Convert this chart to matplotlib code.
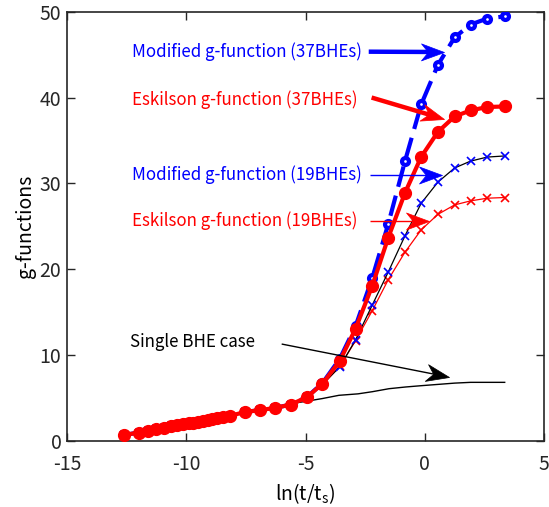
import matplotlib
matplotlib.use('Agg')
import matplotlib.pyplot as plt
import numpy as np
from matplotlib.path import Path

FONT = ['Noto Sans CJK KR', 'DejaVu Sans']
plt.rcParams['font.family'] = FONT
plt.rcParams['mathtext.fontset'] = 'custom'
plt.rcParams['mathtext.rm'] = 'Noto Sans CJK KR'
plt.rcParams['mathtext.it'] = 'Noto Sans CJK KR'
plt.rcParams['axes.unicode_minus'] = False

BLUE = '#0000FF'
RED = '#FF0000'

# ln(t/ts) sample points shared by the g-function series
lnt = [-12.6, -12.0, -11.6, -11.25, -10.95, -10.65, -10.4, -10.15, -9.9, -9.7,
       -9.5, -9.3, -9.1, -8.9, -8.7, -8.45, -8.15, -7.52, -6.92, -6.29,
       -5.62, -4.93, -4.29, -3.56, -2.9, -2.2, -1.53, -0.83, -0.15, 0.55,
       1.25, 1.92, 2.62, 3.35]

# Eskilson g-function, 37 BHEs
esk37 = [0.7, 1.0, 1.2, 1.4, 1.55, 1.7, 1.85, 1.95, 2.05, 2.15,
         2.25, 2.35, 2.45, 2.55, 2.65, 2.8, 2.95, 3.4, 3.6, 3.86,
         4.25, 5.13, 6.68, 9.36, 13.1, 18.1, 23.7, 28.9, 33.1, 36.0,
         37.8, 38.5, 38.9, 38.96]

# Modified g-function, 37 BHEs
mod37 = [0.7, 1.0, 1.2, 1.4, 1.55, 1.7, 1.85, 1.95, 2.05, 2.15,
         2.25, 2.35, 2.45, 2.55, 2.65, 2.8, 2.95, 3.4, 3.6, 3.86,
         4.25, 5.15, 6.75, 9.6, 13.4, 19.0, 25.3, 32.6, 39.2, 43.8,
         47.0, 48.5, 49.2, 49.45]

# Eskilson g-function, 19 BHEs
esk19 = [0.7, 1.0, 1.2, 1.4, 1.55, 1.7, 1.85, 1.95, 2.05, 2.15,
         2.25, 2.35, 2.45, 2.55, 2.65, 2.8, 2.95, 3.4, 3.6, 3.86,
         4.25, 5.1, 6.55, 8.7, 11.7, 15.2, 18.8, 22.0, 24.6, 26.4,
         27.5, 27.97, 28.28, 28.36]

# Modified g-function, 19 BHEs
mod19 = [0.7, 1.0, 1.2, 1.4, 1.55, 1.7, 1.85, 1.95, 2.05, 2.15,
         2.25, 2.35, 2.45, 2.55, 2.65, 2.8, 2.95, 3.4, 3.6, 3.86,
         4.25, 5.1, 6.6, 8.66, 11.8, 15.85, 19.7, 23.9, 27.7, 30.15,
         31.8, 32.6, 33.07, 33.2]

# single borehole response
single_x = [-12.6, -11.5, -10.5, -9.5, -8.5, -7.7, -6.9, -6.0, -5.6, -4.9,
            -4.3, -3.6, -2.8, -2.2, -1.5, -0.8, -0.15, 0.55, 1.25, 1.92,
            2.62, 3.35]
single_y = [0.8, 1.35, 1.85, 2.3, 2.8, 3.2, 3.55, 4.0, 4.36, 4.67,
            4.95, 5.33, 5.5, 5.75, 6.1, 6.3, 6.45, 6.6, 6.75, 6.84,
            6.84, 6.84]

fig = plt.figure(figsize=(5.49, 5.07), dpi=100)
ax = fig.add_axes([0.122, 0.130, 0.869, 0.847])
ax.set_xlim(-15, 5)
ax.set_ylim(0, 50)


def arrow(tail, head, color, lw, L=23, W=17, notch=0.3):
    """Line with a notched arrowhead; L and W in pixels."""
    p0 = ax.transData.transform(tail)
    p1 = ax.transData.transform(head)
    d = p1 - p0
    ang = np.arctan2(d[1], d[0])
    u = d / np.hypot(*d)
    # shaft stops inside the head
    end = ax.transData.inverted().transform(p1 - u * L * 0.6)
    ax.plot([tail[0], end[0]], [tail[1], end[1]], color=color, lw=lw,
            solid_capstyle='butt', zorder=6)
    verts = np.array([[0, 0], [-L, W / 2], [-L * (1 - notch), 0],
                      [-L, -W / 2], [0, 0]], dtype=float)
    c, s = np.cos(ang), np.sin(ang)
    rot = verts @ np.array([[c, s], [-s, c]])
    head_path = Path(rot, [Path.MOVETO, Path.LINETO, Path.LINETO,
                           Path.LINETO, Path.CLOSEPOLY])
    ms = 2 * np.abs(rot).max() * 72 / fig.dpi
    ax.plot([head[0]], [head[1]], marker=head_path, ms=ms, color=color,
            mec=color, mew=0.5, zorder=7)


ax.plot(single_x, single_y, color='black', lw=1.0, zorder=2)
ax.plot(lnt, esk19, color=RED, lw=0.9, marker='x', ms=6, mew=1.2, zorder=3)
ax.plot(lnt, mod19, color='black', lw=0.9, marker='x', ms=6, mew=1.2,
        mec=BLUE, zorder=3)
ax.plot(lnt, mod37, color=BLUE, lw=3.0, ls=(0, (5, 2.2)), marker='o', ms=5,
        mew=3.0, mfc='white', mec=BLUE, zorder=4)
ax.plot(lnt, esk37, color=RED, lw=3.0, marker='o', ms=8.5, zorder=5)

# labels with arrows
labels = [
    ('Modified g-function (37BHEs)', BLUE, 45.34, (-2.35, 45.34), (0.8, 45.3), 3.2),
    ('Eskilson g-function (37BHEs)', RED, 39.74, (-2.23, 40.0), (0.8, 37.5), 3.2),
    ('Modified g-function (19BHEs)', BLUE, 31.0, (-2.31, 31.0), (0.71, 31.0), 1.0),
    ('Eskilson g-function (19BHEs)', RED, 25.64, (-2.31, 25.64), (0.17, 25.64), 1.0),
]
for txt, col, ty, tail, head, lw in labels:
    ax.text(-12.27, ty, txt, color=col, fontsize=12.2, ha='left', va='center')
    arrow(tail, head, col, lw)

ax.text(-12.35, 11.54, 'Single BHE case', color='black', fontsize=12.2,
        ha='left', va='center')
arrow((-6.0, 11.3), (1.0, 7.46), 'black', 1.0)

ax.set_xticks([-15, -10, -5, 0, 5])
ax.set_yticks([0, 10, 20, 30, 40, 50])
ax.tick_params(direction='in', top=True, right=True, labelsize=14,
               length=6, width=1.0, colors='#262626')
ax.tick_params(axis='x', pad=9)
ax.tick_params(axis='y', pad=4)
for s in ax.spines.values():
    s.set_linewidth(1.2)
    s.set_color('#262626')
ax.set_xlabel('ln(t/t$_\\mathrm{s}$)', fontsize=14, labelpad=5)
ax.set_ylabel('g-functions', fontsize=14, labelpad=3)

fig.savefig('out.png', dpi=100)
